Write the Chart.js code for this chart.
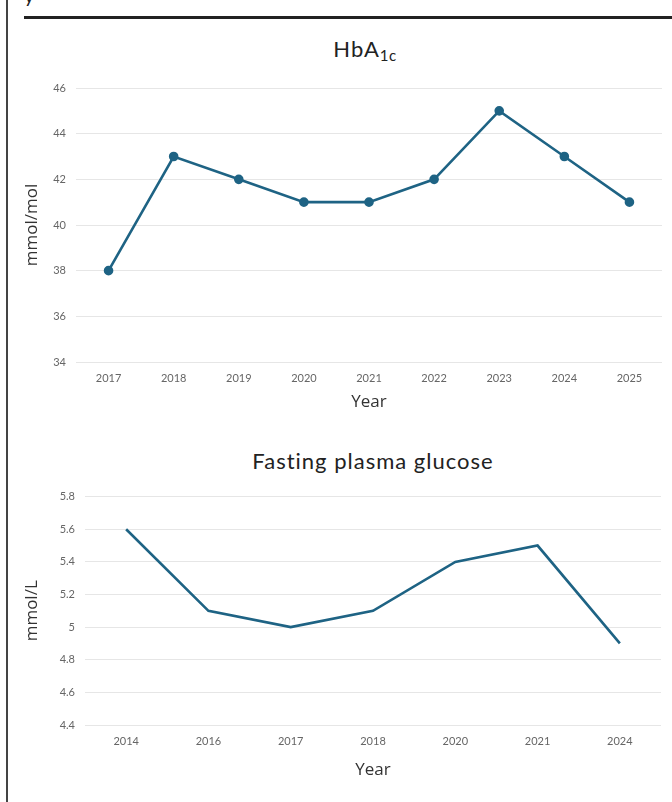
<!DOCTYPE html>
<html>
<head>
<meta charset="utf-8">
<script src="https://cdn.jsdelivr.net/npm/chart.js@4"></script>
<style>
  html, body { margin: 0; padding: 0; background: #fff; }
  body { width: 672px; height: 802px; position: relative; overflow: hidden; font-family: Lato, sans-serif; }
  .side { position: absolute; left: 6px; top: 0; width: 2px; height: 802px; background: #444; }
  .rule { position: absolute; left: 24px; top: 16px; width: 648px; height: 3px; background: #222; }
  .cut { position: absolute; left: 24px; top: -17px; font-size: 20px; color: #222; }
  .title { position: absolute; text-align: center; font-size: 22px; letter-spacing: 1px; color: #222; }
  .title sub { font-size: 15px; vertical-align: -4px; line-height: 0; letter-spacing: 0.5px; }
  .box { position: absolute; left: 0; width: 672px; }
</style>
</head>
<body>
<div class="side"></div>
<div class="cut">y</div>
<div class="rule"></div>

<div class="title" style="left:72px; width:586px; top:35px;">HbA<sub>1c</sub></div>
<div class="box" style="top:70px; height:350px;"><canvas id="hba1cChart"></canvas></div>

<div class="title" style="left:85px; width:576px; top:447px;">Fasting plasma glucose</div>
<div class="box" style="top:480px; height:320px;"><canvas id="fpgChart"></canvas></div>

<script>
const hba1cYears = ["2017", "2018", "2019", "2020", "2021", "2022", "2023", "2024", "2025"];
const hba1cValues = [38, 43, 42, 41, 41, 42, 45, 43, 41];

const fpgYears = ["2014", "2016", "2017", "2018", "2020", "2021", "2024"];
const fpgValues = [5.6, 5.1, 5.0, 5.1, 5.4, 5.5, 4.9];

const lineColor = "#1e6384";
const font = "Lato";
const titleFont = "'Open Sans', sans-serif";

function makeChart(id, labels, values, opts) {
  const ctx = document.getElementById(id).getContext("2d");
  return new Chart(ctx, {
    type: "line",
    data: {
      labels: labels,
      datasets: [{
        data: values,
        borderColor: lineColor,
        backgroundColor: lineColor,
        borderWidth: 2.6,
        pointRadius: opts.pointRadius,
        pointHoverRadius: opts.pointRadius,
        tension: 0
      }]
    },
    options: {
      responsive: true,
      maintainAspectRatio: false,
      animation: false,
      layout: { padding: opts.padding },
      plugins: { legend: { display: false }, tooltip: { enabled: false } },
      scales: {
        x: {
          offset: true,
          grid: { display: false, drawTicks: false },
          border: { display: false },
          ticks: { color: "#666", font: { family: font, size: 11 }, padding: 10, maxRotation: 0 },
          title: { display: true, text: "Year", color: "#333", font: { family: titleFont, size: 17 }, padding: { top: 4, bottom: 0 } },
          afterFit: axis => { axis.height = opts.xHeight; }
        },
        y: {
          min: opts.min,
          max: opts.max,
          grid: { color: "#e6e6e6", drawTicks: false },
          border: { display: false },
          ticks: {
            stepSize: opts.step,
            color: "#666",
            font: { family: font, size: 11 },
            padding: 10,
            callback: v => String(Math.round(v * 10) / 10)
          },
          title: { display: true, text: opts.yTitle, color: "#333", font: { family: titleFont, size: 17 }, padding: 0 },
          afterFit: axis => { axis.width = opts.yWidth; }
        }
      }
    }
  });
}

makeChart("hba1cChart", hba1cYears, hba1cValues, {
  pointRadius: 3.5, min: 34, max: 46, step: 2, yTitle: "mmol/mol",
  padding: { left: 22, right: 10, top: 18, bottom: 8 }, xHeight: 50, yWidth: 54
});

makeChart("fpgChart", fpgYears, fpgValues, {
  pointRadius: 0, min: 4.4, max: 5.8, step: 0.2, yTitle: "mmol/L",
  padding: { left: 22, right: 11, top: 16, bottom: 20 }, xHeight: 55, yWidth: 63
});
</script>
</body>
</html>
